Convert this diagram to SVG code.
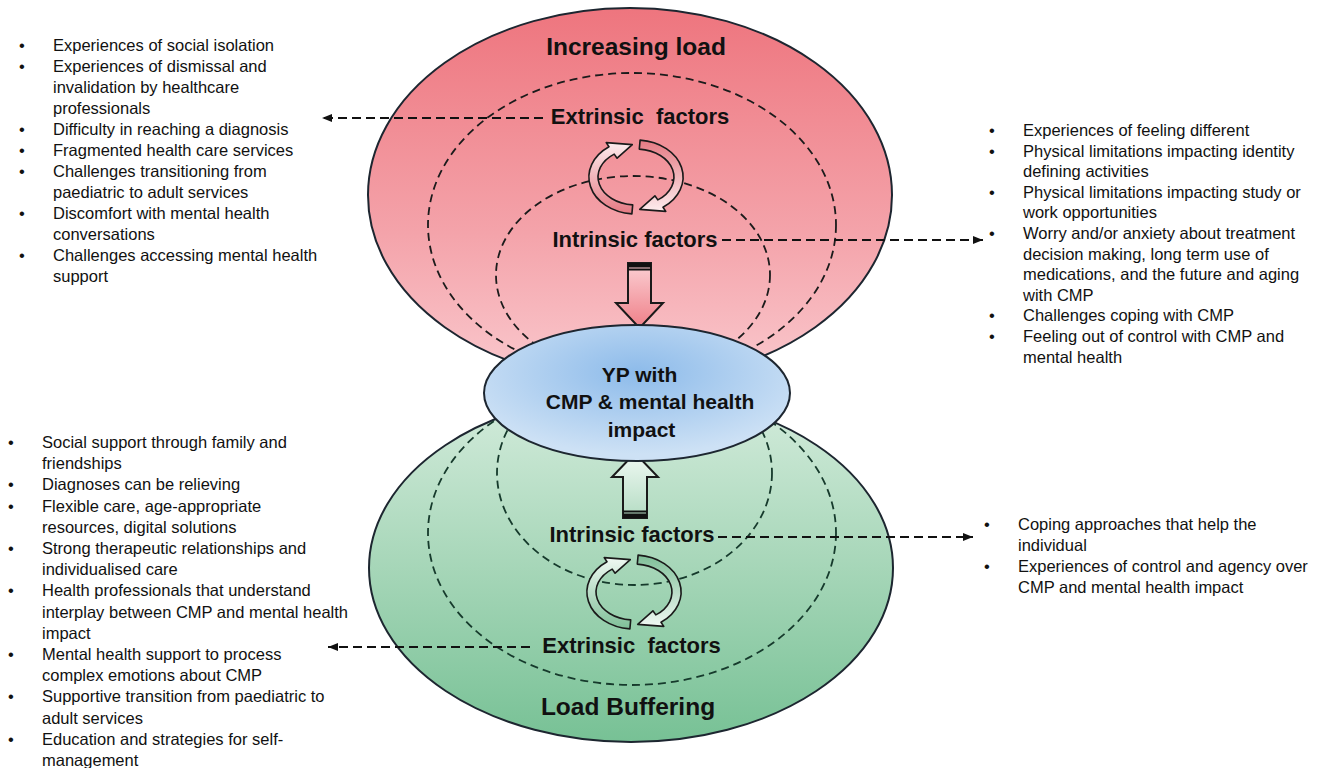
<svg xmlns="http://www.w3.org/2000/svg" width="1325" height="768" viewBox="0 0 1325 768">
<defs>
<linearGradient id="gRed" x1="0" y1="0" x2="0" y2="1">
<stop offset="0" stop-color="#ee757e"/>
<stop offset="0.6" stop-color="#f4a3aa"/>
<stop offset="1" stop-color="#fac9ce"/>
</linearGradient>
<linearGradient id="gGreen" x1="0" y1="0" x2="0" y2="1">
<stop offset="0" stop-color="#d4ecdc"/>
<stop offset="0.5" stop-color="#a6d6b8"/>
<stop offset="1" stop-color="#77c195"/>
</linearGradient>
<radialGradient id="gBlue" cx="0.5" cy="0.35" r="0.6">
<stop offset="0" stop-color="#8dbbea"/>
<stop offset="1" stop-color="#cde1f5"/>
</radialGradient>
<linearGradient id="gCycRedL" x1="0" y1="0" x2="0" y2="1">
<stop offset="0" stop-color="#fdecee"/>
<stop offset="1" stop-color="#e57a83"/>
</linearGradient>
<linearGradient id="gCycRedR" x1="0" y1="0" x2="0" y2="1">
<stop offset="0" stop-color="#e57a83"/>
<stop offset="1" stop-color="#fdecee"/>
</linearGradient>
<linearGradient id="gCycGreenL" x1="0" y1="0" x2="0" y2="1">
<stop offset="0" stop-color="#f0f9f3"/>
<stop offset="1" stop-color="#7fbf98"/>
</linearGradient>
<linearGradient id="gCycGreenR" x1="0" y1="0" x2="0" y2="1">
<stop offset="0" stop-color="#7fbf98"/>
<stop offset="1" stop-color="#f0f9f3"/>
</linearGradient>
<linearGradient id="gArrRed" x1="0" y1="0" x2="0" y2="1">
<stop offset="0" stop-color="#fbd0d4"/>
<stop offset="1" stop-color="#ef7f88"/>
</linearGradient>
<linearGradient id="gArrGreen" x1="0" y1="0" x2="0" y2="1">
<stop offset="0" stop-color="#f0f9f3"/>
<stop offset="1" stop-color="#b4dcc3"/>
</linearGradient>
<path id="cycL" d="M-4.1,36.9 A47,37 0 0 1 -27,-30.3 L-29.8,-34.4 L-3.7,-32.4 L-18.9,-18.8 L-21.8,-22.9 A38,28 0 0 0 -3.3,27.9 Z"/>
<path id="cycR" d="M4.1,-36.9 A47,37 0 0 1 27,30.3 L29.8,34.4 L3.7,32.4 L18.9,18.8 L21.8,22.9 A38,28 0 0 0 3.3,-27.9 Z"/>
<marker id="ah" viewBox="0 0 10 8" refX="10" refY="4" markerWidth="10" markerHeight="8" markerUnits="userSpaceOnUse" orient="auto">
<path d="M0,0 L10,4 L0,8 Z" fill="#111"/>
</marker>
</defs>
<style>
.edge{stroke:#1d2630;stroke-width:2}
.red{fill:url(#gRed)}
.green{fill:url(#gGreen)}
.blue{fill:url(#gBlue)}
.dash{fill:none;stroke:#1b1b1b;stroke-width:1.8;stroke-dasharray:8 5}
.dashg{fill:none;stroke:#163a2c;stroke-width:1.8;stroke-dasharray:8 5}
.conn{fill:none;stroke:#111;stroke-width:2;stroke-dasharray:9 5}
.cyc{stroke:#1a1a1a;stroke-width:1.6;stroke-linejoin:round}
.blk{stroke:#1a1a1a;stroke-width:2;stroke-linejoin:miter}
.title{font-family:"Liberation Sans",Arial,sans-serif;font-weight:bold;font-size:24.5px;fill:#111;text-anchor:middle}
.lbl{font-family:"Liberation Sans",Arial,sans-serif;font-weight:bold;font-size:22px;fill:#111;text-anchor:middle}
.core{font-family:"Liberation Sans",Arial,sans-serif;font-weight:bold;font-size:21px;fill:#111;text-anchor:middle}
.list{font-family:"Liberation Sans",Arial,sans-serif;font-size:16.5px;fill:#111}
</style>

<g id="increasing-load">
<ellipse cx="630" cy="195" rx="262" ry="187" class="edge red"/>
<ellipse cx="632" cy="225" rx="204" ry="152" class="dash"/>
<ellipse cx="633" cy="275" rx="137" ry="99" class="dash"/>
<text x="636" y="55" class="title">Increasing load</text>
<text x="640" y="124" class="lbl" xml:space="preserve">Extrinsic  factors</text>
<text x="635" y="247" class="lbl">Intrinsic factors</text>
<use href="#cycL" x="636" y="177" fill="url(#gCycRedL)" class="cyc"/>
<use href="#cycR" x="636" y="177" fill="url(#gCycRedR)" class="cyc"/>
</g>

<g id="load-buffering">
<ellipse cx="631" cy="568" rx="262" ry="174" class="edge green"/>
<ellipse cx="632" cy="533" rx="204" ry="152" class="dashg"/>
<ellipse cx="634.5" cy="473" rx="137.5" ry="112" class="dashg"/>
<text x="632" y="542" class="lbl">Intrinsic factors</text>
<text x="631.5" y="653" class="lbl" xml:space="preserve">Extrinsic  factors</text>
<text x="628" y="715" class="title">Load Buffering</text>
<use href="#cycL" x="634" y="592" fill="url(#gCycGreenL)" class="cyc"/>
<use href="#cycR" x="634" y="592" fill="url(#gCycGreenR)" class="cyc"/>
</g>

<g id="load-arrow">
<path d="M628,263 H651 V303 H663 L639.5,328 L616,303 H628 Z" fill="url(#gArrRed)" class="blk"/>
<rect x="628" y="263" width="23" height="4.5" fill="#111"/>
<rect x="628" y="268.5" width="23" height="2" fill="#111"/>
</g>

<g id="buffer-arrow">
<path d="M623,518 V477 H612 L635,453 L658,477 H647 V518 Z" fill="url(#gArrGreen)" class="blk"/>
<rect x="623" y="510.5" width="24" height="2" fill="#111"/>
<rect x="623" y="513.5" width="24" height="4.5" fill="#111"/>
</g>

<g id="yp-core">
<ellipse cx="637" cy="393" rx="153" ry="68" class="edge blue"/>
<text x="639.5" y="382" class="core">YP with</text>
<text x="650" y="409" class="core">CMP &amp; mental health</text>
<text x="641.5" y="437" class="core">impact</text>
</g>

<g id="connectors">
<line x1="543" y1="118" x2="322" y2="118" class="conn" marker-end="url(#ah)"/>
<line x1="722" y1="240" x2="983" y2="240" class="conn" marker-end="url(#ah)"/>
<line x1="718" y1="537" x2="973" y2="537" class="conn" marker-end="url(#ah)"/>
<line x1="530" y1="647" x2="328" y2="647" class="conn" marker-end="url(#ah)"/>
</g>

<g id="list-load-extrinsic" class="list">
<text x="19" y="51">•</text><text x="53" y="51">Experiences of social isolation</text>
<text x="19" y="72">•</text><text x="53" y="72">Experiences of dismissal and</text>
<text x="53" y="93">invalidation by healthcare</text>
<text x="53" y="114">professionals</text>
<text x="19" y="135">•</text><text x="53" y="135">Difficulty in reaching a diagnosis</text>
<text x="19" y="156">•</text><text x="53" y="156">Fragmented health care services</text>
<text x="19" y="177">•</text><text x="53" y="177">Challenges transitioning from</text>
<text x="53" y="198">paediatric to adult services</text>
<text x="19" y="219">•</text><text x="53" y="219">Discomfort with mental health</text>
<text x="53" y="240">conversations</text>
<text x="19" y="261">•</text><text x="53" y="261">Challenges accessing mental health</text>
<text x="53" y="282">support</text>
</g>

<g id="list-load-intrinsic" class="list">
<text x="989" y="136">•</text><text x="1023" y="136">Experiences of feeling different</text>
<text x="989" y="156.6">•</text><text x="1023" y="156.6">Physical limitations impacting identity</text>
<text x="1023" y="177.2">defining activities</text>
<text x="989" y="197.8">•</text><text x="1023" y="197.8">Physical limitations impacting study or</text>
<text x="1023" y="218.4">work opportunities</text>
<text x="989" y="239">•</text><text x="1023" y="239">Worry and/or anxiety about treatment</text>
<text x="1023" y="259.6">decision making, long term use of</text>
<text x="1023" y="280.2">medications, and the future and aging</text>
<text x="1023" y="300.8">with CMP</text>
<text x="989" y="321.4">•</text><text x="1023" y="321.4">Challenges coping with CMP</text>
<text x="989" y="342">•</text><text x="1023" y="342">Feeling out of control with CMP and</text>
<text x="1023" y="362.6">mental health</text>
</g>

<g id="list-buffer-extrinsic" class="list">
<text x="8" y="448">•</text><text x="42" y="448">Social support through family and</text>
<text x="42" y="469.2">friendships</text>
<text x="8" y="490.4">•</text><text x="42" y="490.4">Diagnoses can be relieving</text>
<text x="8" y="511.6">•</text><text x="42" y="511.6">Flexible care, age-appropriate</text>
<text x="42" y="532.8">resources, digital solutions</text>
<text x="8" y="554">•</text><text x="42" y="554">Strong therapeutic relationships and</text>
<text x="42" y="575.2">individualised care</text>
<text x="8" y="596.4">•</text><text x="42" y="596.4">Health professionals that understand</text>
<text x="42" y="617.6">interplay between CMP and mental health</text>
<text x="42" y="638.8">impact</text>
<text x="8" y="660">•</text><text x="42" y="660">Mental health support to process</text>
<text x="42" y="681.2">complex emotions about CMP</text>
<text x="8" y="702.4">•</text><text x="42" y="702.4">Supportive transition from paediatric to</text>
<text x="42" y="723.6">adult services</text>
<text x="8" y="744.8">•</text><text x="42" y="744.8">Education and strategies for self-</text>
<text x="42" y="766">management</text>
</g>

<g id="list-buffer-intrinsic" class="list">
<text x="984" y="530">•</text><text x="1018" y="530">Coping approaches that help the</text>
<text x="1018" y="551">individual</text>
<text x="984" y="572">•</text><text x="1018" y="572">Experiences of control and agency over</text>
<text x="1018" y="593">CMP and mental health impact</text>
</g>
</svg>
